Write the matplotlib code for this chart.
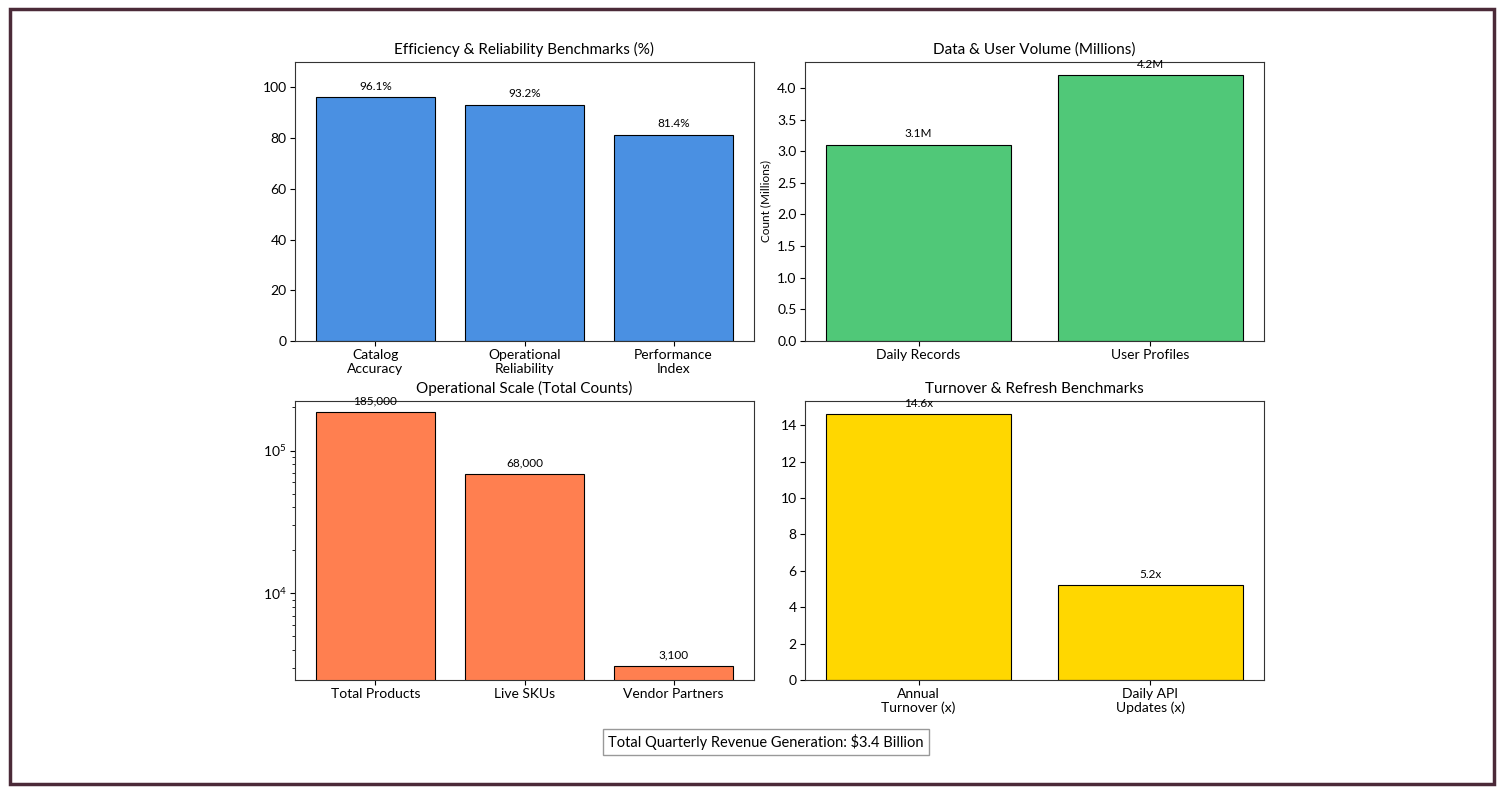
import matplotlib
matplotlib.use("Agg")
import matplotlib.pyplot as plt
from matplotlib.patches import Rectangle

plt.rcParams['font.family'] = ['Lato', 'DejaVu Sans']

# Data
eff_labels = ["Catalog\nAccuracy", "Operational\nReliability", "Performance\nIndex"]
eff_values = [96.1, 93.2, 81.4]

vol_labels = ["Daily Records", "User Profiles"]
vol_values = [3.1, 4.2]

scale_labels = ["Total Products", "Live SKUs", "Vendor Partners"]
scale_values = [185000, 68000, 3100]

turn_labels = ["Annual\nTurnover (x)", "Daily API\nUpdates (x)"]
turn_values = [14.6, 5.2]

summary_text = "Total Quarterly Revenue Generation: $3.4 Billion"

fig = plt.figure(figsize=(15.03, 7.93), dpi=100)

W, H = 1503, 793
def pos(x0, y0, x1, y1):
    return [x0 / W, 1 - y1 / H, (x1 - x0) / W, (y1 - y0) / H]

ax1 = fig.add_axes(pos(295, 62, 754, 341))
ax2 = fig.add_axes(pos(805, 62, 1264, 341))
ax3 = fig.add_axes(pos(295, 401, 754, 680))
ax4 = fig.add_axes(pos(805, 401, 1264, 680))

title_fs = 11
tick_fs = 10
ann_fs = 8.5

def annotate(ax, bars, texts):
    for b, t in zip(bars, texts):
        ax.annotate(t, (b.get_x() + b.get_width() / 2, b.get_height()),
                    xytext=(0, 4), textcoords="offset points",
                    ha="center", va="bottom", fontsize=ann_fs)

# Panel 1
b1 = ax1.bar(range(len(eff_values)), eff_values, color="#4A90E2", edgecolor="black", linewidth=0.8)
ax1.set_xticks(range(len(eff_values)))
ax1.set_xticklabels(eff_labels, linespacing=1.15)
ax1.set_ylim(0, 110)
ax1.set_title("Efficiency & Reliability Benchmarks (%)", fontsize=title_fs)
annotate(ax1, b1, [f"{v}%" for v in eff_values])

# Panel 2
b2 = ax2.bar(range(len(vol_values)), vol_values, color="#50C878", edgecolor="black", linewidth=0.8)
ax2.set_xticks(range(len(vol_values)))
ax2.set_xticklabels(vol_labels)
ax2.set_ylim(0, max(vol_values) * 1.05)
ax2.set_ylabel("Count (Millions)", fontsize=8.5)
ax2.set_title("Data & User Volume (Millions)", fontsize=title_fs)
annotate(ax2, b2, [f"{v}M" for v in vol_values])

# Panel 3
b3 = ax3.bar(range(len(scale_values)), scale_values, color="#FF7F50", edgecolor="black", linewidth=0.8)
ax3.set_yscale("log")
ax3.set_xticks(range(len(scale_values)))
ax3.set_xticklabels(scale_labels)
ax3.set_ylim(min(scale_values) * 0.8, max(scale_values) * 1.2)
ax3.set_title("Operational Scale (Total Counts)", fontsize=title_fs)
annotate(ax3, b3, [f"{v:,}" for v in scale_values])

# Panel 4
b4 = ax4.bar(range(len(turn_values)), turn_values, color="#FFD700", edgecolor="black", linewidth=0.8)
ax4.set_xticks(range(len(turn_values)))
ax4.set_xticklabels(turn_labels, linespacing=1.15)
ax4.set_ylim(0, max(turn_values) * 1.05)
ax4.set_title("Turnover & Refresh Benchmarks", fontsize=title_fs)
annotate(ax4, b4, [f"{v}x" for v in turn_values])

for ax in (ax1, ax2, ax3, ax4):
    ax.tick_params(labelsize=tick_fs, pad=2.5)
    for s in ax.spines.values():
        s.set_color("#333333")

fig.text(766 / W, 1 - 742 / H, summary_text, ha="center", va="center", fontsize=10.5,
         bbox=dict(boxstyle="square,pad=0.35", facecolor="white", edgecolor="#999999"))

fig.patches.append(Rectangle((9.5 / W, 9.5 / H), (1494 - 9.5) / W, (784 - 9.5) / H,
                             transform=fig.transFigure, fill=False,
                             edgecolor="#4B2A38", linewidth=2.5))

fig.savefig("out.png", dpi=100)
